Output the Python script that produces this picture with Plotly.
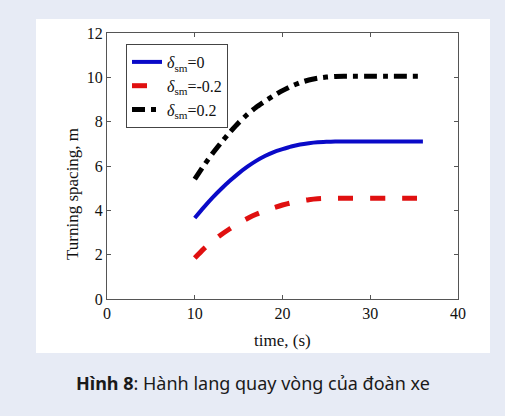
import plotly.graph_objects as go

# ---- data ----
time_s = [10, 11, 12, 13, 14, 15, 16, 17, 18, 19, 20, 21, 22, 23, 24, 25, 26, 27, 28, 30, 32, 34, 36]
d_0 = [3.65, 4.12, 4.56, 4.96, 5.33, 5.67, 5.97, 6.23, 6.45, 6.63, 6.76, 6.88, 6.97, 7.03, 7.07, 7.09, 7.1, 7.1, 7.1, 7.1, 7.1, 7.1, 7.1]
d_m02 = [1.85, 2.25, 2.6, 2.9, 3.17, 3.42, 3.63, 3.82, 3.98, 4.12, 4.24, 4.34, 4.42, 4.48, 4.52, 4.54, 4.55, 4.55, 4.55, 4.55, 4.55, 4.55, 4.55]
d_p02 = [5.41, 6.0, 6.55, 7.05, 7.52, 7.95, 8.33, 8.65, 8.92, 9.17, 9.4, 9.6, 9.76, 9.88, 9.96, 10.01, 10.04, 10.05, 10.05, 10.05, 10.05, 10.05, 10.05]
names = ["<i>δ</i><sub>sm</sub>=0", "<i>δ</i><sub>sm</sub>=-0.2", "<i>δ</i><sub>sm</sub>=0.2"]
x_ticks = [0, 10, 20, 30, 40]
y_ticks = [0, 2, 4, 6, 8, 10, 12]

W, H = 505, 416
L, R, T, B = 107, 47, 33, 117
pw, ph = W - L - R, H - T - B

def px(x):
    return (x - L) / pw

def py(y):
    return (H - B - y) / ph

serif = "Liberation Serif"

fig = go.Figure()
fig.add_trace(go.Scatter(x=time_s, y=d_0, mode="lines", name=names[0],
                         line=dict(color="#0a0ac8", width=4, shape="spline", smoothing=0.5)))
fig.add_trace(go.Scatter(x=time_s, y=d_m02, mode="lines", name=names[1],
                         line=dict(color="#e01010", width=5, dash="15px,17px", shape="spline", smoothing=0.5)))
fig.add_trace(go.Scatter(x=time_s, y=d_p02, mode="lines", name=names[2],
                         line=dict(color="#000000", width=5, dash="13px,6px,5px,6px", shape="spline", smoothing=0.5)))

axis_common = dict(showgrid=False, zeroline=False, showline=True, linecolor="#555555", linewidth=1,
                   mirror="ticks", ticks="inside", ticklen=4, tickcolor="#555555",
                   tickfont=dict(family=serif, size=16, color="#111111"))

fig.update_xaxes(range=[0, 40], tickvals=x_ticks, **axis_common)
fig.update_yaxes(range=[0, 12], tickvals=y_ticks, **axis_common)

fig.add_shape(type="rect", xref="paper", yref="paper", x0=px(36), x1=px(490), y0=py(353), y1=py(19),
              fillcolor="white", line=dict(width=0), layer="below")

fig.add_annotation(xref="paper", yref="paper", x=0.5, y=py(340), text="time, (s)", showarrow=False,
                   font=dict(family=serif, size=17, color="#111111"), xanchor="center", yanchor="middle")
fig.add_annotation(xref="paper", yref="paper", x=px(72), y=py(194), text="Turning spacing, m", showarrow=False,
                   textangle=-90, font=dict(family=serif, size=17, color="#111111"), xanchor="center", yanchor="middle")
fig.add_annotation(xref="paper", yref="paper", x=px(253), y=py(383),
                   text="<b>Hình 8</b>: Hành lang quay vòng của đoàn xe", showarrow=False,
                   font=dict(family="Noto Sans", size=18, color="#1a1a1a"),
                   xanchor="center", yanchor="middle")

fig.update_layout(
    width=W, height=H, margin=dict(l=L, r=R, t=T, b=B),
    paper_bgcolor="#e7ebf5", plot_bgcolor="white",
    showlegend=True,
    legend=dict(x=px(126), y=py(44), xanchor="left", yanchor="top", bgcolor="white",
                bordercolor="#444444", borderwidth=1, itemwidth=30,
                font=dict(family=serif, size=16, color="#111111"), tracegroupgap=0),
)

fig.write_html("out.html")
